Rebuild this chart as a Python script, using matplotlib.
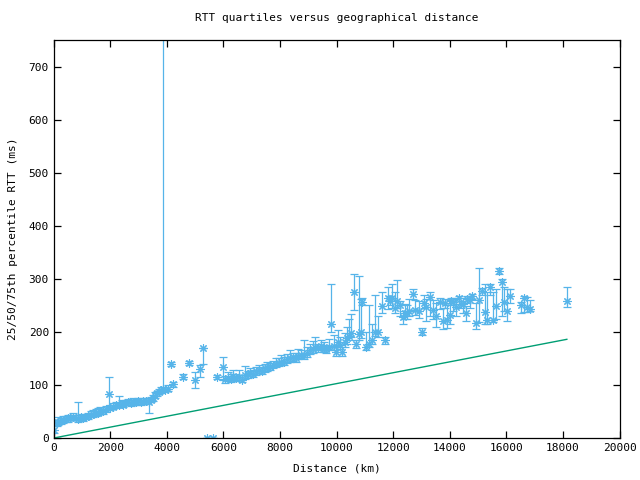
import numpy as np
import matplotlib
matplotlib.use("Agg")
import matplotlib.pyplot as plt

plt.rcParams['font.family'] = ['DejaVu Sans Mono']
plt.rcParams['font.size'] = 8

# distance (km), 25th / 50th / 75th percentile RTT (ms)
dist = [0, 100, 150, 250, 330, 420, 505, 590, 680, 770, 860, 950, 1040, 1130, 1210,
        1300, 1390, 1480, 1570, 1650, 1740, 1840, 1955, 2000, 2100, 2200, 2310, 2400,
        2450, 2550, 2630, 2720, 2800, 2900, 2980, 3070, 3160, 3250, 3370, 3450, 3510,
        3580, 3650, 3720, 3805, 3852, 3950, 4040, 4134, 4205, 4560, 4770, 5000, 5160,
        5265, 5400, 5620, 5760, 5972, 6050, 6150, 6250, 6350, 6450, 6550, 6650, 6750,
        6850, 6950, 7050, 7150, 7250, 7350, 7450, 7550, 7630, 7750, 7850, 7950, 8050,
        8150, 8250, 8350, 8450, 8550, 8650, 8750, 8850, 8950, 9050, 9150, 9250, 9340,
        9450, 9550, 9635, 9720, 9788, 9900, 9988, 10047, 10120, 10201, 10300, 10364,
        10450, 10519, 10600, 10671, 10789, 10850, 10907, 11049, 11141, 11250, 11350,
        11460, 11600, 11696, 11814, 11880, 11955, 12050, 12120, 12226, 12344, 12420,
        12486, 12560, 12697, 12780, 12910, 13014, 13080, 13145, 13286, 13403, 13522,
        13640, 13757, 13830, 13899, 13993, 14060, 14110, 14228, 14322, 14400, 14463,
        14558, 14620, 14700, 14795, 14935, 15018, 15148, 15230, 15312, 15430, 15523,
        15641, 15735, 15841, 15912, 16031, 16138, 16526, 16620, 16726, 16845, 18138]

rtt_med = [16, 28, 30, 33, 34, 36, 37, 38, 39, 38, 36, 39, 37, 40, 41,
           44, 45, 47, 48, 51, 50, 54, 82, 57, 59, 62, 62, 65,
           63, 66, 68, 66, 67, 68, 69, 67, 70, 69, 68, 72, 75,
           80, 84, 87, 90, 93, 91, 92, 139, 101, 115, 141, 109, 130,
           169, 0, 0, 115, 134, 111, 114, 112, 117, 113, 115, 110, 118,
           120, 122, 121, 126, 128, 126, 131, 133, 134, 137, 139, 142, 144,
           143, 148, 150, 152, 151, 155, 157, 156, 160, 166, 168, 172, 170,
           173, 168, 167, 171, 215, 173, 163, 181, 176, 163, 180, 189,
           193, 197, 275, 178, 196, 200, 257, 172, 178, 185, 200,
           199, 248, 184, 263, 258, 263, 245, 258, 250, 228, 235,
           235, 240, 272, 242, 239, 200, 255, 247, 266, 242, 230,
           257, 221, 255, 222, 231, 258, 257, 247, 263, 252, 252,
           235, 262, 260, 267, 216, 260, 277, 238, 223, 284, 222,
           248, 315, 294, 257, 239, 267, 250, 263, 247, 243, 258]

rtt_q1 = [10, 22, 24, 27, 28, 30, 31, 33, 34, 33, 31, 34, 32, 35, 36,
          39, 40, 42, 43, 46, 45, 49, 59, 52, 54, 57, 58, 60,
          58, 62, 63, 61, 62, 63, 64, 62, 65, 64, 48, 68, 70,
          76, 79, 83, 85, 88, 87, 88, 135, 96, 111, 137, 95, 115,
          139, 0, 0, 112, 110, 104, 108, 106, 110, 107, 109, 105, 112,
          114, 116, 115, 119, 122, 120, 124, 127, 128, 131, 133, 136, 138,
          137, 141, 143, 146, 144, 148, 150, 149, 153, 159, 161, 165, 162,
          166, 163, 160, 166, 200, 165, 155, 174, 168, 155, 172, 178,
          185, 190, 241, 170, 185, 188, 250, 166, 171, 177, 192,
          190, 235, 178, 243, 250, 245, 235, 245, 230, 215, 225,
          225, 230, 262, 232, 226, 195, 245, 220, 230, 225, 210,
          244, 205, 245, 208, 215, 250, 240, 230, 252, 245, 235,
          220, 255, 245, 262, 205, 218, 270, 215, 215, 270, 218,
          225, 310, 230, 240, 220, 255, 235, 238, 237, 240, 246]

rtt_q3 = [22, 34, 40, 38, 42, 41, 44, 43, 47, 44, 68, 45, 43, 46, 48,
          50, 52, 54, 56, 58, 55, 60, 115, 63, 66, 68, 79, 71,
          70, 72, 74, 72, 75, 73, 76, 72, 76, 75, 75, 78, 81,
          86, 89, 92, 96, 900, 97, 99, 144, 105, 120, 146, 124, 137,
          170, 0, 0, 119, 153, 117, 125, 121, 128, 120, 128, 118, 135,
          127, 131, 129, 134, 138, 133, 140, 144, 141, 146, 150, 151, 157,
          152, 158, 165, 161, 160, 168, 166, 185, 172, 178, 182, 190, 178,
          185, 180, 176, 186, 290, 195, 172, 203, 190, 171, 198, 210,
          225, 233, 310, 185, 305, 262, 263, 200, 250, 215, 270,
          230, 275, 190, 285, 268, 290, 275, 298, 258, 240, 252,
          250, 262, 280, 260, 258, 208, 270, 262, 275, 260, 255,
          264, 245, 262, 250, 260, 264, 263, 262, 268, 258, 264,
          248, 268, 268, 272, 255, 320, 282, 290, 275, 290, 275,
          280, 320, 300, 285, 280, 280, 257, 268, 265, 260, 284]

# propagation-delay reference line
line_x = [0, 18138]
line_y = [0, 186]

med = np.array(rtt_med)
yerr = [med - np.array(rtt_q1), np.array(rtt_q3) - med]

fig = plt.figure(figsize=(6.4, 4.8), dpi=100)
ax = fig.add_axes([0.084, 0.0875, 0.884, 0.829])

blue = '#56b4e9'
ax.errorbar(dist, rtt_med, yerr=yerr, fmt='none', ecolor=blue, elinewidth=0.9,
            capsize=3, capthick=0.9)
ax.plot(dist, rtt_med, linestyle='none', marker=(8, 2, 0), color=blue,
        markersize=6, markeredgewidth=0.8)
ax.plot(line_x, line_y, color='#009e73', linewidth=1)

ax.set_xlim(0, 20000)
ax.set_ylim(0, 750)
ax.set_xticks(np.arange(0, 20001, 2000))
ax.set_yticks(np.arange(0, 701, 100))
ax.tick_params(direction='in', top=True, right=True, length=5, width=0.9)
for s in ax.spines.values():
    s.set_linewidth(0.9)

ax.set_title("RTT quartiles versus geographical distance", fontsize=8, pad=14)
ax.set_xlabel("Distance (km)", labelpad=8)
ax.set_ylabel("25/50/75th percentile RTT (ms)", labelpad=8)

fig.savefig("out.png", dpi=100)
